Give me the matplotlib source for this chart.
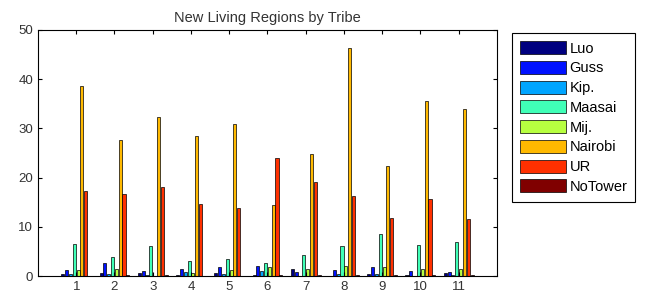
import numpy as np
import matplotlib
matplotlib.use('Agg')
import matplotlib.pyplot as plt

# values, one list per tribe (regions 1..11)
regions = list(range(1, 12))
tribes = ['Luo', 'Guss', 'Kip.', 'Maasai', 'Mij.', 'Nairobi', 'UR', 'NoTower']

luo = [0.35, 0.7, 0.7, 0.15, 0.7, 0.15, 1.5, 0.1, 0.5, 0.2, 0.55]
guss = [1.2, 2.6, 0.95, 1.4, 1.8, 2.1, 0.75, 1.15, 1.8, 0.95, 0.9]
kip = [0.4, 0.4, 0.15, 0.8, 0.5, 0.95, 0.05, 0.4, 0.4, 0.1, 0.2]
maasai = [6.5, 3.9, 6.0, 3.1, 3.4, 2.6, 4.3, 6.0, 8.5, 6.2, 7.0]
mij = [1.15, 1.5, 0.05, 0.7, 1.15, 1.8, 1.4, 2.1, 1.8, 1.35, 1.35]
nairobi = [38.6, 27.6, 32.4, 28.5, 30.8, 14.4, 24.7, 46.4, 22.3, 35.6, 34.0]
ur = [17.3, 16.6, 18.0, 14.6, 13.9, 24.0, 19.1, 16.3, 11.7, 15.6, 11.5]
notower = [0.0, 0.15, 0.2, 0.0, 0.0, 0.2, 0.2, 0.2, 0.2, 0.2, 0.2]

series = [luo, guss, kip, maasai, mij, nairobi, ur, notower]
colors = plt.cm.jet(np.linspace(0, 1, len(series)))

plt.rcParams['font.family'] = ['Liberation Sans', 'DejaVu Sans']

fig = plt.figure(figsize=(6.47, 2.97), dpi=100)
ax = fig.add_axes([0.0587, 0.0707, 0.7093, 0.8283])

n = len(series)
group_w = 0.8
step = group_w / n
x = np.array(regions, dtype=float)
for i, (vals, name) in enumerate(zip(series, tribes)):
    off = -group_w / 2 + step * (i + 0.5)
    ax.bar(x + off, vals, width=step * 0.8, color=colors[i],
           edgecolor='black', linewidth=0.5, label=name)

ax.set_xlim(0, 12)
ax.set_ylim(0, 50)
ax.set_xticks(regions)
ax.set_yticks(range(0, 51, 10))
ax.tick_params(direction='in', top=True, right=True, labelsize=9.5, length=3,
               labelcolor='#333333')
ax.set_title('New Living Regions by Tribe', fontsize=10.5, color='#333333')

leg = fig.legend(loc='upper left', bbox_to_anchor=(0.791, 0.889), fontsize=10.5,
                 handlelength=3.2, handleheight=1.0, labelspacing=0.36,
                 handletextpad=0.2, borderpad=0.55, borderaxespad=0,
                 fancybox=False, edgecolor='black', framealpha=1)
leg.get_frame().set_linewidth(0.8)

fig.savefig('out.png', dpi=100)
